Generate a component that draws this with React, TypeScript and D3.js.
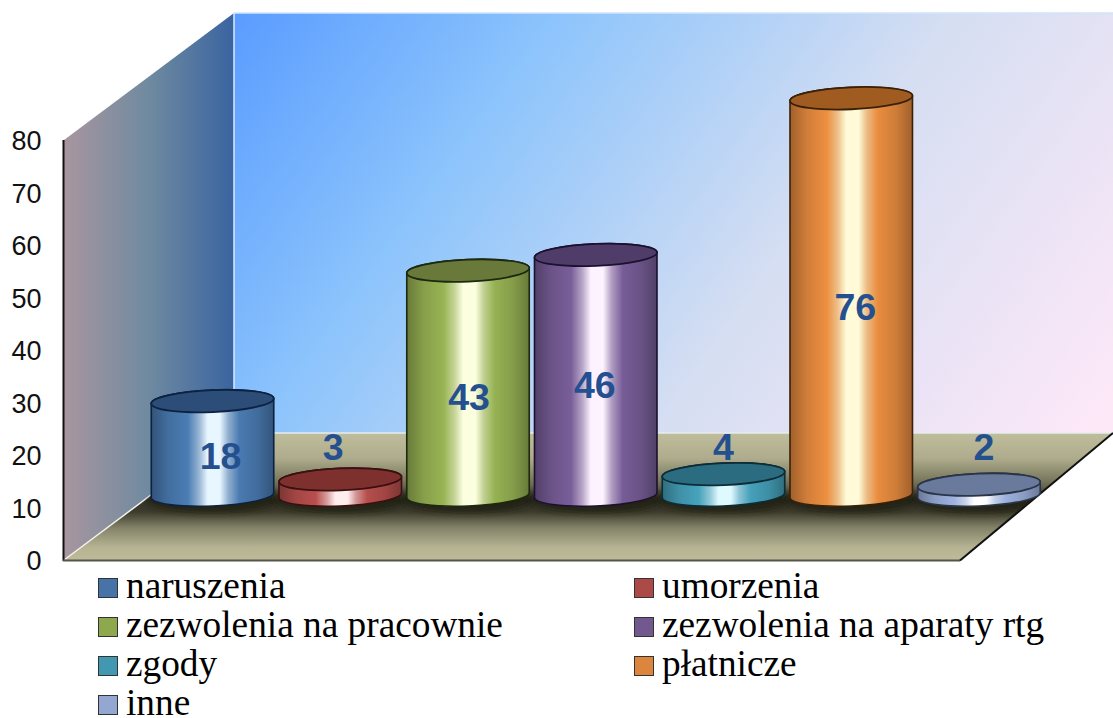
import React from 'react';
import * as d3 from 'd3';

const categories = ['naruszenia', 'umorzenia', 'zezwolenia na pracownie', 'zezwolenia na aparaty rtg', 'zgody', 'płatnicze', 'inne'];
const values = [18, 3, 43, 46, 4, 76, 2];
const yTicks = [0, 10, 20, 30, 40, 50, 60, 70, 80];
const baseColors = ['#4674a8', '#ac4a48', '#8ea84e', '#71588f', '#4298b0', '#dc853c', '#93a7d0'];
const topColors = ['#2c4d78', '#7d302e', '#68793a', '#4f3c68', '#2b6c80', '#a05c20', '#6a7a9c'];
const edgeColors = ['#0c2240', '#3a1010', '#1c2810', '#1c1030', '#0c2c38', '#3a2008', '#2a3448'];
const hiColors = ['#e8f6ff', '#ffeeee', '#fbffe0', '#fdf2ff', '#dffaff', '#fffbd8', '#ffffff'];
const labelOffsets = [8, -7, 1, -1, 0, 4, 5];
const labelYs = [456, 447, 397, 385, 447, 307, 447];
const legendRows = [0, 0, 1, 1, 2, 2, 3];

const W = 1113, H = 718;
const axisY = d3.scaleLinear().domain([0, 80]).range([560, 140]);
const wallY = d3.scaleLinear().domain([0, 80]).range([433, 13]);
const barY = d3.scaleLinear().domain([0, 80]).range([495, 77.4]);
const x = d3.scaleBand<number>().domain(d3.range(categories.length)).range([151.2, 1040.3]).paddingInner(0.04).paddingOuter(0);
const RX = 61.3, RY = 11, TILT = -2.4;
const rad = (TILT * Math.PI) / 180;

function ends(cx: number, cy: number) {
  const dx = RX * Math.cos(rad), dy = RX * Math.sin(rad);
  return { lx: cx - dx, ly: cy - dy, rx: cx + dx, ry: cy + dy };
}
function bodyPath(cx: number, top: number, bottom: number) {
  const t = ends(cx, top), b = ends(cx, bottom);
  return `M${t.lx},${t.ly}L${b.lx},${b.ly}A${RX},${RY} ${TILT} 0 0 ${b.rx},${b.ry}L${t.rx},${t.ry}A${RX},${RY} ${TILT} 0 0 ${t.lx},${t.ly}Z`;
}
const shade = (c: string, k: number) => d3.color(c)!.darker(k).formatHex();
const glow = (c: string, k: number) => d3.color(c)!.brighter(k).formatHex();

export default function App() {
  const floorPath = `M64,${axisY(0)}L960,${axisY(0)}L1113,${wallY(0)}L234,${wallY(0)}Z`;
  return (
    <svg width={W} height={H} style={{ position: 'fixed', left: 0, top: 0 }}>
      <defs>
        <linearGradient id="back" gradientUnits="userSpaceOnUse" x1="234" y1="13" x2="1000" y2="560">
          <stop offset="0" stopColor="#5a9cff" />
          <stop offset="0.28" stopColor="#8cc4fc" />
          <stop offset="0.62" stopColor="#d5def2" />
          <stop offset="1" stopColor="#fde8f8" />
        </linearGradient>
        <linearGradient id="side" gradientUnits="userSpaceOnUse" x1="64" y1="0" x2="234" y2="0">
          <stop offset="0" stopColor="#a8969f" />
          <stop offset="0.5" stopColor="#6f8aa0" />
          <stop offset="1" stopColor="#3a64a0" />
        </linearGradient>
        <linearGradient id="floor" gradientUnits="userSpaceOnUse" x1="0" y1="433" x2="0" y2="560">
          <stop offset="0" stopColor="#bfbd9b" />
          <stop offset="0.2" stopColor="#aeac8c" />
          <stop offset="0.38" stopColor="#77765b" />
          <stop offset="0.53" stopColor="#35342a" />
          <stop offset="0.62" stopColor="#3c3b2c" />
          <stop offset="0.75" stopColor="#85846a" />
          <stop offset="0.9" stopColor="#b5b392" />
          <stop offset="1" stopColor="#bdbb98" />
        </linearGradient>
        <clipPath id="floorClip"><path d={floorPath} /></clipPath>
        <filter id="blur" x="-20%" y="-100%" width="140%" height="300%">
          <feGaussianBlur stdDeviation="3" />
        </filter>
        {values.map((_, i) => (
          <linearGradient key={i} id={`cyl${i}`} x1="0" x2="1" y1="0" y2="0">
            <stop offset="0" stopColor={shade(baseColors[i], 0.9)} />
            <stop offset="0.14" stopColor={shade(baseColors[i], 0.15)} />
            <stop offset="0.3" stopColor={glow(baseColors[i], 0.2)} />
            <stop offset="0.39" stopColor={d3.interpolateRgb(baseColors[i], hiColors[i])(0.5)} />
            <stop offset="0.46" stopColor={hiColors[i]} />
            <stop offset="0.56" stopColor={hiColors[i]} />
            <stop offset="0.63" stopColor={d3.interpolateRgb(baseColors[i], hiColors[i])(0.45)} />
            <stop offset="0.72" stopColor={glow(baseColors[i], 0.15)} />
            <stop offset="0.87" stopColor={shade(baseColors[i], 0.2)} />
            <stop offset="1" stopColor={shade(baseColors[i], 0.9)} />
          </linearGradient>
        ))}
      </defs>

      <rect width={W} height={H} fill="#fff" />
      <rect x={234} y={wallY(80)} width={W - 234} height={wallY(0) - wallY(80)} fill="url(#back)" />
      <path d={`M64,${axisY(80)}L234,${wallY(80)}L234,${wallY(0)}L64,${axisY(0)}Z`} fill="url(#side)" />
      <path d={floorPath} fill="url(#floor)" />
      <line x1={234} x2={W} y1={wallY(80)} y2={wallY(80)} stroke="#cfe4fb" strokeWidth={1.5} />
      <line x1={234} x2={234} y1={wallY(80)} y2={wallY(0)} stroke="#d8ebff" strokeWidth={1.5} />
      <line x1={234} x2={W} y1={wallY(0)} y2={wallY(0)} stroke="#e4ecf0" strokeWidth={1.5} />
      <line x1={64} x2={234} y1={axisY(0)} y2={wallY(0)} stroke="#f2f2ea" strokeWidth={1.5} />

      <line x1={63.5} x2={63.5} y1={axisY(80)} y2={axisY(0) + 1} stroke="#111" strokeWidth={2} />
      <line x1={63} x2={960} y1={axisY(0) + 0.5} y2={axisY(0) + 0.5} stroke="#55554a" strokeWidth={2} />
      <line x1={960} x2={1113} y1={axisY(0) + 0.5} y2={wallY(0)} stroke="#111" strokeWidth={2} />

      {yTicks.map(t => (
        <text key={t} x={41.5} y={axisY(t) + 10} textAnchor="end" fontFamily="'Liberation Sans'" fontSize={27} fill="#111">{t}</text>
      ))}

      <g clipPath="url(#floorClip)">
        {values.map((v, i) => {
          const cx = x(i)! + x.bandwidth() / 2;
          return <ellipse key={i} cx={cx} cy={barY(0) + 4} rx={RX + 5} ry={RY + 3} fill="#1e1c10" opacity={0.75} filter="url(#blur)" />;
        })}
      </g>

      {values.map((v, i) => {
        const cx = x(i)! + x.bandwidth() / 2;
        const top = barY(v), bottom = barY(0);
        return (
          <g key={i}>
            <path d={bodyPath(cx, top, bottom)} fill={`url(#cyl${i})`} stroke={edgeColors[i]} strokeWidth={1.6} />
            <ellipse cx={cx} cy={top} rx={RX} ry={RY} transform={`rotate(${TILT} ${cx} ${top})`} fill={topColors[i]} stroke={edgeColors[i]} strokeWidth={1.8} />
          </g>
        );
      })}

      {values.map((v, i) => {
        const cx = x(i)! + x.bandwidth() / 2 + labelOffsets[i];
        return (
          <text key={i} x={cx} y={labelYs[i] + 13} textAnchor="middle" fontFamily="'Liberation Sans'" fontWeight="bold" fontSize={37.5} fill="#25508f">{v}</text>
        );
      })}

      {categories.map((c, i) => {
        const col = i % 2;
        const row = legendRows[i];
        const sx = col === 0 ? 98.5 : 634.5;
        const baseY = 598 + row * 39;
        return (
          <g key={c}>
            <rect x={sx} y={baseY - 19.5} width={19} height={19} fill={baseColors[i]} stroke="#333" strokeWidth={1} />
            <text x={sx + 27.5} y={baseY} fontFamily="'Liberation Serif'" fontSize={37.3} fill="#000">{c}</text>
          </g>
        );
      })}
    </svg>
  );
}
